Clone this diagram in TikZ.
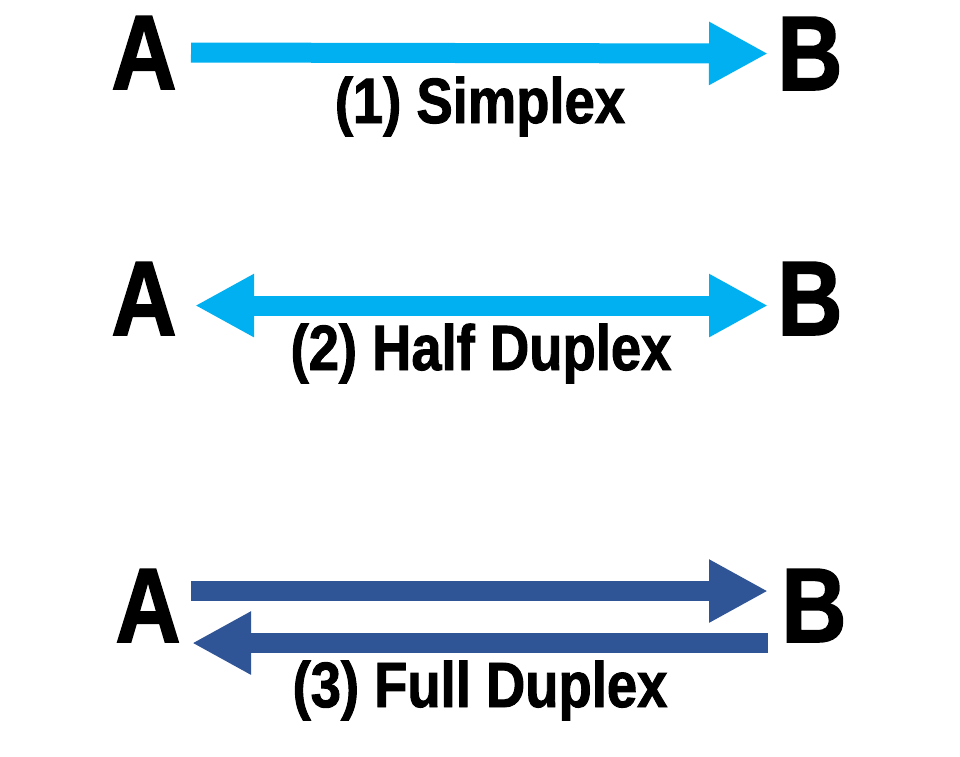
\documentclass[tikz,border=0pt]{standalone}
\usepackage{fontspec}
\usepackage{tikz}
\usetikzlibrary{calc,arrows.meta}
\newfontfamily\diagfont[FakeStretch=0.85,FakeBold=1.5]{Liberation Sans}
\definecolor{skyblue}{HTML}{00B0F0}
\definecolor{navyblue}{HTML}{2F5597}
\tikzset{
letter/.style={anchor=base,inner sep=0pt,font=\diagfont\bfseries\fontsize{106}{106}\selectfont},
caption/.style={anchor=base,inner sep=0pt,font=\diagfont\bfseries\fontsize{64}{64}\selectfont},
fat/.style={line width=20pt,-{Triangle[length=59pt,width=59pt]}},
twofat/.style={line width=20pt,{Triangle[length=59pt,width=59pt]}-{Triangle[length=59pt,width=59pt]}}
}

\begin{document}
\begin{tikzpicture}[x=1pt,y=-1pt]
\useasboundingbox (0,0) rectangle (960,756);
\node[letter] (a1) at (144,89) {A};
\node[letter] (b1) at (810,90) {B};
\draw[fat,color=skyblue] ([xshift=47pt]a1.center) -- ([xshift=-42pt]b1.center);
\node[caption] (c1) at (480,123) {(1) Simplex};
\node[letter] (a2) at (144,335) {A};
\node[letter] (b2) at (810,335) {B};
\draw[twofat,color=skyblue] ([xshift=51pt,yshift=-7pt]a2.center) -- ([xshift=-42pt,yshift=-7pt]b2.center);
\node[caption] (c2) at (481,370) {(2) Half Duplex};
\node[letter] (a3) at (148,642) {A};
\node[letter] (b3) at (814,642) {B};
\draw[fat,color=navyblue] ([xshift=43pt,yshift=14.5pt]a3.center) -- ([xshift=-46pt,yshift=14.5pt]b3.center);
\draw[fat,color=navyblue] ([xshift=-46pt,yshift=-37.5pt]b3.center) -- ([xshift=44pt,yshift=-37.5pt]a3.center);
\node[caption] (c3) at (480,707) {(3) Full Duplex};
\end{tikzpicture}
\end{document}
